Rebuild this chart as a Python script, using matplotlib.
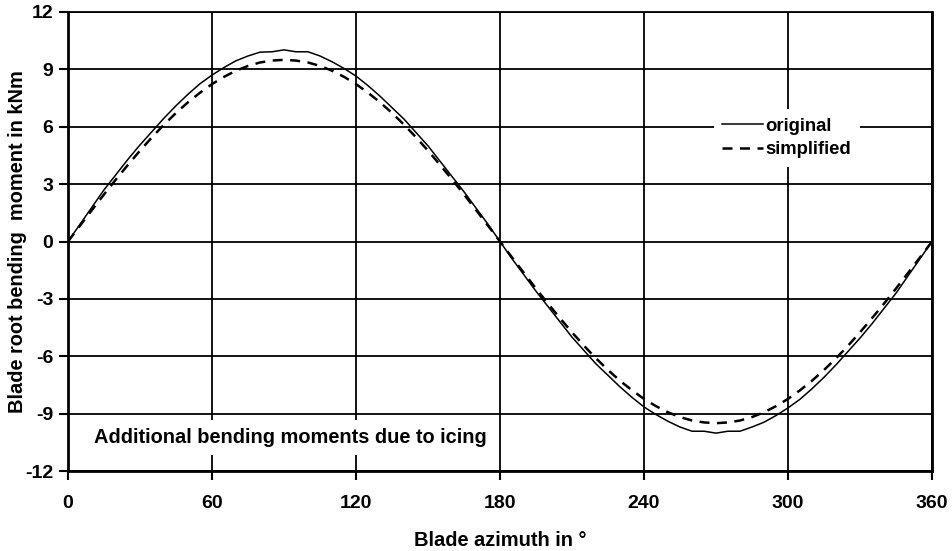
import matplotlib
matplotlib.use("Agg")
import matplotlib.pyplot as plt

plt.rcParams["font.family"] = ["Liberation Sans", "DejaVu Sans"]
plt.rcParams["font.weight"] = "bold"
plt.rcParams["axes.unicode_minus"] = False

# =========================
# DATA
# =========================
azimuth = list(range(0, 365, 5))

original = [
    0.0, 0.9, 1.8, 2.7, 3.5, 4.3, 5.05, 5.75, 6.45, 7.1, 7.7, 8.25, 8.7,
    9.1, 9.45, 9.7, 9.9, 9.92, 10.02, 9.92, 9.92, 9.7, 9.4, 9.05, 8.65,
    8.15, 7.6, 7.0, 6.4, 5.7, 5.0, 4.2, 3.4, 2.6, 1.75, 0.9, 0.0,
    -0.9, -1.75, -2.6, -3.4, -4.2, -5.0, -5.7, -6.4, -7.0, -7.6, -8.15,
    -8.65, -9.05, -9.4, -9.7, -9.92, -9.92, -10.02, -9.92, -9.92, -9.7,
    -9.45, -9.1, -8.7, -8.25, -7.7, -7.1, -6.45, -5.75, -5.05, -4.3,
    -3.5, -2.7, -1.8, -0.9, 0.0,
]

simplified = [
    0.0, 0.83, 1.65, 2.46, 3.25, 4.01, 4.75, 5.45, 6.11, 6.72, 7.28, 7.78,
    8.23, 8.61, 8.93, 9.18, 9.36, 9.46, 9.5, 9.46, 9.36, 9.18, 8.93, 8.61,
    8.23, 7.78, 7.28, 6.72, 6.11, 5.45, 4.75, 4.01, 3.25, 2.46, 1.65, 0.83,
    0.0, -0.83, -1.65, -2.46, -3.25, -4.01, -4.75, -5.45, -6.11, -6.72,
    -7.28, -7.78, -8.23, -8.61, -8.93, -9.18, -9.36, -9.46, -9.5, -9.46,
    -9.36, -9.18, -8.93, -8.61, -8.23, -7.78, -7.28, -6.72, -6.11, -5.45,
    -4.75, -4.01, -3.25, -2.46, -1.65, -0.83, 0.0,
]

x_ticks = [0, 60, 120, 180, 240, 300, 360]
y_ticks = [-12, -9, -6, -3, 0, 3, 6, 9, 12]

# =========================
# PLOT
# =========================
fig = plt.figure(figsize=(9.52, 5.51), dpi=100)
ax = fig.add_axes([68 / 952, 1 - 471 / 551, 864 / 952, 459 / 551])

ax.plot(azimuth, original, color="black", lw=1.1, label="original", zorder=3)
ax.plot(azimuth, simplified, color="black", lw=1.8, linestyle=(0, (4, 3)),
        label="simplified", zorder=3)

ax.set_xlim(0, 360)
ax.set_ylim(-12, 12)
ax.set_xticks(x_ticks)
ax.set_yticks(y_ticks)
ax.grid(True, color="black", lw=1.3)
ax.set_axisbelow(True)

for side in ["left", "bottom", "right"]:
    ax.spines[side].set_linewidth(2.0)
ax.spines["top"].set_linewidth(1.3)

ax.tick_params(direction="out", length=6.5, width=1.5, labelsize=14)
ax.tick_params(axis="x", pad=11)
ax.tick_params(axis="y", pad=4)

ax.set_xlabel("Blade azimuth in °", fontsize=14.4, fontweight="bold", va="center")
ax.set_ylabel("Blade root bending  moment in kNm", fontsize=14.4,
              fontweight="bold", va="center")
ax.xaxis.set_label_coords(0.5, (471 - 540) / 459)
ax.yaxis.set_label_coords((18 - 68) / 864, 0.5)

ax.text(10.8, -10.25, "Additional bending moments due to icing", fontsize=14.4,
        fontweight="bold", va="center", ha="left", zorder=2,
        bbox=dict(facecolor="white", edgecolor="none", pad=6))

leg = ax.legend(loc="center left", bbox_to_anchor=(646 / 864, 1 - 126 / 459),
                frameon=True, fancybox=False, framealpha=1, edgecolor="none",
                fontsize=13.3, handlelength=2.2, handletextpad=0.15,
                borderpad=0.45, labelspacing=0.35, borderaxespad=0)
for t in leg.get_texts():
    t.set_fontweight("bold")

fig.savefig("out.png", dpi=100)
